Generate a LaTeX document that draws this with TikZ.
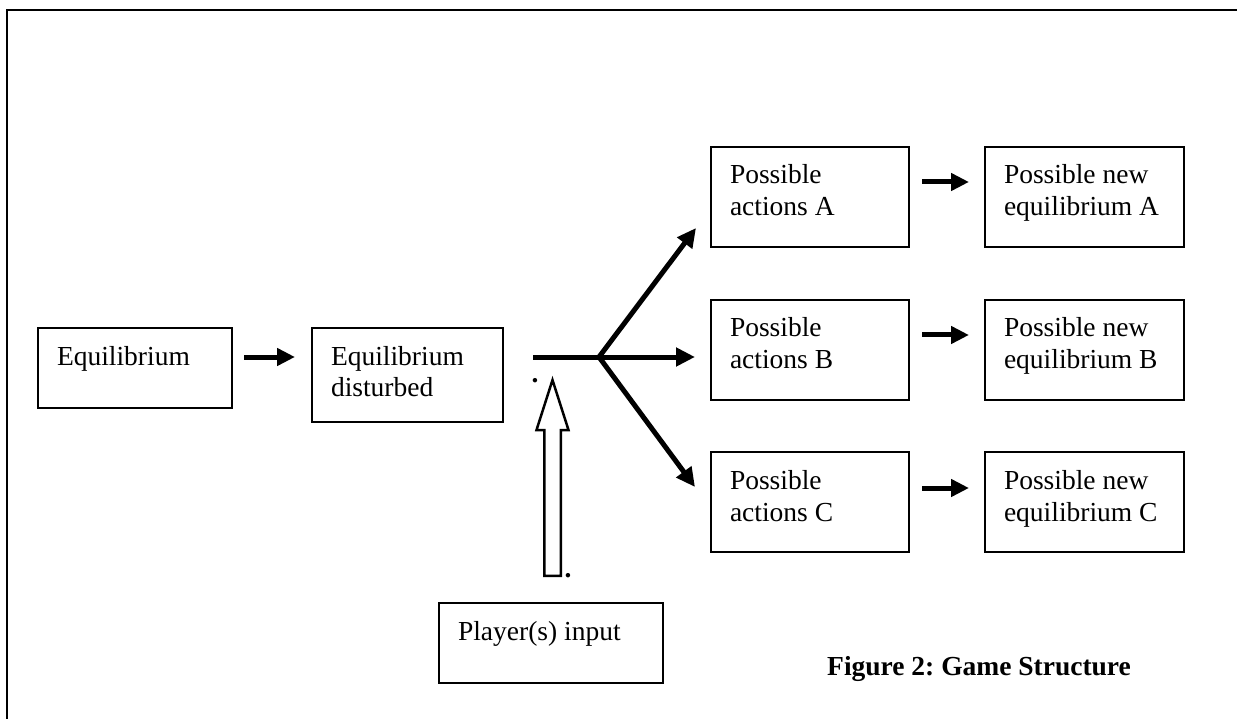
\documentclass[tikz,border=0pt]{standalone}
\usepackage{fontspec}
\setmainfont{Liberation Serif}
\usetikzlibrary{arrows.meta}
\frenchspacing
\newcommand{\bt}[3]{\parbox[t][#2][t]{#1}{\raggedright\strut #3}}
\begin{document}
\begin{tikzpicture}[x=1pt,y=-1pt,
  font=\fontsize{27.5pt}{32pt}\selectfont,
  box/.style={draw,line width=2pt,anchor=north west,inner xsep=19pt,inner ysep=14.6pt,outer sep=0pt},
  arr/.style={line width=5pt,-{Triangle[length=18pt,width=17pt]}},
  branch/.style={line width=5pt,line cap=round,-{Triangle[length=19pt,width=18pt]}},
  frame/.style={line width=2.5pt},
  hollow/.style={line width=2.5pt,line join=miter},
  dot/.style={inner sep=0pt,anchor=base,font=\fontsize{27.5pt}{32pt}\selectfont\bfseries}]
\useasboundingbox (0,0) rectangle (1237,719);
\draw[frame] (1240,10) -- (7,10) -- (7,722);

\node[box] (eq) at (38,328) {\bt{156pt}{50.8pt}{\mbox{Equilibrium}}};
\node[box] (dist) at (312,328) {\bt{153pt}{64.8pt}{\mbox{Equilibrium}\\\mbox{disturbed}}};
\node[box] (actA) at (711,147) {\bt{160pt}{70.8pt}{\mbox{Possible}\\\mbox{actions A}}};
\node[box] (newA) at (985,147) {\bt{161pt}{70.8pt}{\mbox{Possible new}\\\mbox{equilibrium A}}};
\node[box] (actB) at (711,300) {\bt{160pt}{70.8pt}{\mbox{Possible}\\\mbox{actions B}}};
\node[box] (newB) at (985,300) {\bt{161pt}{70.8pt}{\mbox{Possible new}\\\mbox{equilibrium B}}};
\node[box] (actC) at (711,452) {\bt{160pt}{70.8pt}{\mbox{Possible}\\\mbox{actions C}}};
\node[box] (newC) at (985,452) {\bt{161pt}{70.8pt}{\mbox{Possible new}\\\mbox{equilibrium C}}};
\node[box] (player) at (439,603) {\bt{186pt}{50.8pt}{\mbox{Player(s) input}}};

\draw[arr] ([xshift=12pt,yshift=-29pt]eq.north east) -- ([xshift=-17pt,yshift=-29pt]dist.north west);
\draw[arr] ([xshift=13pt,yshift=-35pt]actA.north east) -- ([xshift=-16pt,yshift=-35pt]newA.north west);
\draw[arr] ([xshift=13pt,yshift=-35pt]actB.north east) -- ([xshift=-16pt,yshift=-35pt]newB.north west);
\draw[arr] ([xshift=13pt,yshift=-36pt]actC.north east) -- ([xshift=-16pt,yshift=-36pt]newC.north west);

\coordinate (s) at ([xshift=30pt,yshift=-29pt]dist.north east);
\coordinate (j) at ([xshift=96pt,yshift=-29pt]dist.north east);
\coordinate (tA) at ([xshift=-15pt,yshift=19pt]actA.south west);
\coordinate (tB) at ([xshift=-16pt,yshift=-57pt]actB.north west);
\coordinate (tC) at ([xshift=-16pt,yshift=-35pt]actC.north west);
\draw[line width=5pt] (s) -- (j);
\draw[branch] (j) -- (tA);
\draw[branch] (j) -- (tB);
\draw[branch] (j) -- (tC);

\coordinate (hb) at ([xshift=1.5pt,yshift=26pt]player.north);
\begin{scope}[shift={(hb)}]
\draw[hollow] (-8.25,-1.25) -- (-8.25,-147) -- (-16,-147) -- (0,-197) -- (16,-147) -- (8.25,-147) -- (8.25,-1.25) -- cycle;
\end{scope}
\node[dot] (d1) at (535,382) {.};
\node[dot] (d2) at (568,577) {.};

\node[anchor=base west,inner sep=0pt,font=\fontsize{27.5pt}{32pt}\selectfont\bfseries] (cap) at (827,675) {Figure 2: Game Structure};
\end{tikzpicture}
\end{document}
